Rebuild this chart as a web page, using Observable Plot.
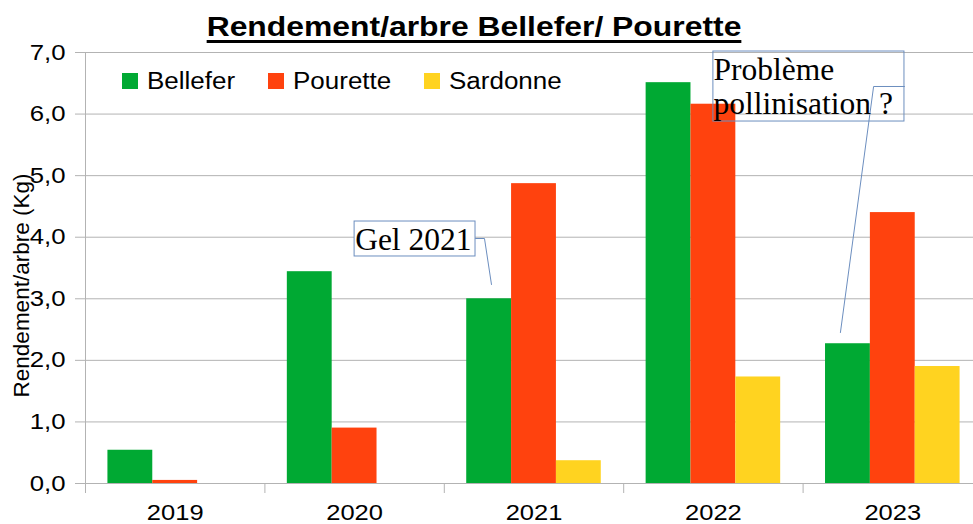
<!DOCTYPE html>
<html>
<head>
<meta charset="utf-8">
<script src="https://cdn.jsdelivr.net/npm/d3@7"></script>
<script src="https://cdn.jsdelivr.net/npm/@observablehq/plot@0.6"></script>
<style>
  body { margin: 0; background: #fff; }
  #wrap { position: relative; width: 973px; height: 524px; overflow: hidden; background: #fff;
          font-family: "Liberation Sans", Arial, sans-serif; color: #000; }
  #title { position: absolute; left: 474px; top: 14px; font-size: 27px; font-weight: bold; line-height: 27px;
           white-space: nowrap; text-decoration: underline; text-decoration-thickness: 3px;
           text-underline-offset: 4px; transform: translateX(-50%) scaleX(1.18); }
  .lg-sw { position: absolute; top: 73px; width: 16px; height: 16px; }
  .lg-tx { position: absolute; top: 69.5px; font-size: 23px; line-height: 23px; white-space: nowrap;
           transform: scaleX(1.13); transform-origin: left center; }
  #chart { position: absolute; left: 0; top: 0; }
</style>
</head>
<body>
<div id="wrap">
  <div id="chart"></div>
  <div id="title">Rendement/arbre Bellefer/ Pourette</div>
  <div id="legend"></div>
</div>
<script>
// ---- data ----
const years = [2019, 2020, 2021, 2022, 2023];
const varieties = ["Bellefer", "Pourette", "Sardonne"];
const bellefer = [0.54, 3.44, 3.00, 6.51, 2.27];
const pourette = [0.05, 0.90, 4.87, 6.16, 4.40];
const sardonne = [0.00, 0.00, 0.37, 1.73, 1.90];
const yTicks = [0, 1, 2, 3, 4, 5, 6, 7];
const colors = ["#00a933", "#ff420e", "#ffd320"];
const yLabel = "Rendement/arbre (Kg)";
const chartTitle = "Rendement/arbre Bellefer/ Pourette";

// callouts (anchored in data units)
const callouts = [
  {id: "gel", fill: "white", x1: 2020.0, x2: 2020.674, y1: 3.687, y2: 4.255,
   path: [[2020.674, 3.979], [2020.724, 3.979], [2020.763, 3.232]]},
  {id: "poll", fill: "none", x1: 2022.0, x2: 2023.065, y1: 5.879, y2: 7.016,
   path: [[2023.065, 6.448], [2022.893, 6.448], [2022.708, 2.452]]}
];
const calloutTexts = [
  {text: "Gel 2021", x: 2020.003, y: 3.80},
  {text: "Problème", x: 2022.001, y: 6.561},
  {text: "pollinisation ?", x: 2022.001, y: 6.009}
];

const series = [bellefer, pourette, sardonne];
const rows = years.flatMap((yr, i) => series.map((s, j) => ({year: yr, variety: varieties[j], idx: j, value: s[i]})));
const separators = [years[0] - 0.5, ...years.map(y => y + 0.5)];
const pathRows = callouts.flatMap(c => c.path.map(([x, y]) => ({id: c.id, x, y})));

const grid = "#b3b3b3";
const calloutStroke = "#6c8ebf";
const groupFrac = 0.75, barFrac = groupFrac / varieties.length;

const chart = Plot.plot({
  width: 973, height: 524,
  marginLeft: 85, marginRight: 0, marginTop: 52, marginBottom: 41,
  x: {domain: [years[0] - 0.5, years[years.length - 1] + 0.5], range: [85, 982], label: null},
  y: {domain: [0, 7], label: null},
  color: {domain: varieties, range: colors},
  style: {fontFamily: '"Liberation Sans", Arial, sans-serif', fontSize: "22px", color: "black", background: "transparent"},
  marks: [
    Plot.gridY(yTicks, {stroke: grid, strokeOpacity: 1}),
    Plot.axisY(yTicks, {tickSize: 10, tickPadding: 10, stroke: grid, fill: "black", fontSize: 22,
      tickFormat: d => d.toFixed(1).replace(".", ",")}),
    Plot.rectY(rows, {
      x1: d => d.year - groupFrac / 2 + d.idx * barFrac,
      x2: d => d.year - groupFrac / 2 + (d.idx + 1) * barFrac,
      y: "value", fill: "variety"
    }),
    Plot.ruleY([0], {stroke: grid}),
    Plot.ruleX([separators[0]], {stroke: grid}),
    Plot.axisX(separators, {tickSize: 10, stroke: grid, tickFormat: () => ""}),
    Plot.axisX(years, {tickSize: 0, tickPadding: 21, fill: "black", fontSize: 22, tickFormat: d => String(d)}),
    Plot.text([yLabel], {frameAnchor: "left", rotate: -90, dx: -64, dy: 17.5, fontSize: 22.5,
      textAnchor: "middle", lineAnchor: "middle", fill: "black", ariaLabel: "ylabel"}),
    Plot.line(pathRows, {x: "x", y: "y", z: "id", stroke: calloutStroke, strokeWidth: 1, curve: "linear"}),
    Plot.rect(callouts, {x1: "x1", x2: "x2", y1: "y1", y2: "y2", fill: "fill", stroke: calloutStroke, strokeWidth: 1}),
    Plot.text(calloutTexts, {x: "x", y: "y", text: "text", textAnchor: "start", lineAnchor: "middle", dy: -10,
      fontFamily: '"Liberation Serif", "Times New Roman", serif', fontSize: 31.5, fill: "black", ariaLabel: "callout"})
  ]
});

// widen the axis tick labels to match the reference's wide lettering
chart.querySelectorAll('g[aria-label$="tick label"] text').forEach(t => {
  const g = t.parentNode.getAttribute("aria-label") || "";
  const k = g.startsWith("y") ? 1.17 : 1.16;
  const tr = t.getAttribute("transform");
  if (tr) t.setAttribute("transform", tr + ` scale(${k},1)`);
  else {
    const x = +(t.getAttribute("x") || 0);
    t.setAttribute("transform", `translate(${x},0) scale(${k},1) translate(${-x},0)`);
  }
});
document.getElementById("chart").appendChild(chart);
document.getElementById("title").textContent = chartTitle;

// legend
const legendX = [122, 268, 424];
const legend = document.getElementById("legend");
varieties.forEach((v, i) => {
  const sw = document.createElement("div");
  sw.className = "lg-sw"; sw.style.left = legendX[i] + "px"; sw.style.background = colors[i];
  const tx = document.createElement("div");
  tx.className = "lg-tx"; tx.style.left = (legendX[i] + 24.7) + "px"; tx.textContent = v;
  legend.appendChild(sw); legend.appendChild(tx);
});
</script>
</body>
</html>
